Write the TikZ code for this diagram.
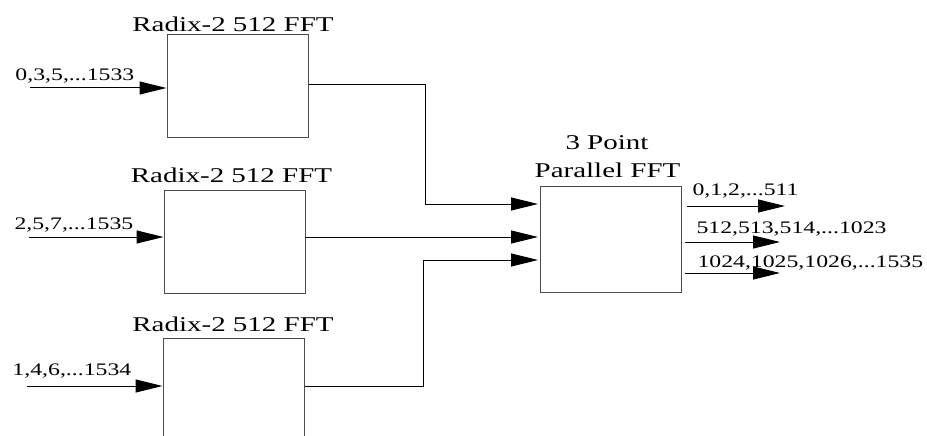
\documentclass[tikz,border=0pt]{standalone}
\usepackage{fontspec}
\setmainfont{Liberation Serif}
\newfontfamily\widefont[FakeStretch=1.38]{Liberation Serif}
\newfontfamily\tagfont[FakeStretch=1.35]{Liberation Serif}
\usetikzlibrary{arrows.meta}
\begin{document}
\begin{tikzpicture}[x=1pt,y=-1pt,
  line width=1pt,
  block/.style={draw=black!70, fill=white, minimum width=141pt, inner sep=0pt},
  wire/.style={draw=black},
  feed/.style={draw=black, -{Triangle[length=27pt,width=13pt]}},
  title/.style={anchor=base, inner sep=0pt, font=\widefont\fontsize{21}{28}\selectfont},
  tag/.style={anchor=base west, inner sep=0pt, font=\tagfont\fontsize{17.6}{21}\selectfont}]
  \useasboundingbox (0,0) rectangle (927,436);
  \clip (0,0) rectangle (927,436);
  \fill[white] (0,0) rectangle (927,436);

  % three radix-2 blocks and the 3-point block
  \node[block, minimum height=102pt] (b1) at (237.5,86) {};
  \node[block, minimum height=103pt] (b2) at (234.5,241.5) {};
  \node[block, minimum height=104pt] (b3) at (233.5,390) {};
  \node[block, minimum width=141pt, minimum height=106pt] (p) at (610.5,239) {};

  % block titles
  \node[title] (t1) at (233,32) {Radix-2 512 FFT};
  \node[title] (t2) at (231.5,182) {Radix-2 512 FFT};
  \node[title] (t3) at (233,331) {Radix-2 512 FFT};
  \node[title] (t4) at (607,149) {3 Point};
  \node[title] (t5) at (607.5,177) {Parallel FFT};

  % input sequences
  \coordinate (i1) at (30,88);
  \coordinate (i2) at (29,237);
  \coordinate (i3) at (27,386);
  \draw[feed] (i1) -- (i1 -| b1.west);
  \draw[feed] (i2) -- (i2 -| b2.west);
  \draw[feed] (i3) -- (i3 -| b3.west);
  \node[tag] (l1) at (15,81) {0,3,5,...1533};
  \node[tag] (l2) at (14,229) {2,5,7,...1535};
  \node[tag] (l3) at (12,375) {1,4,6,...1534};

  % routing into the 3-point FFT
  \coordinate (r1a) at (308,85);
  \coordinate (r1b) at (425,85);
  \coordinate (r1c) at (425,204);
  \draw[wire] (r1a -| b1.east) -- (r1b) -- (r1c);
  \draw[feed] (r1c) -- (538,204);
  \coordinate (r2) at (305,237);
  \draw[feed] (r2 -| b2.east) -- (538,237);
  \coordinate (r3a) at (304,386);
  \coordinate (r3b) at (423,386);
  \coordinate (r3c) at (423,260);
  \draw[wire] (r3a -| b3.east) -- (r3b) -- (r3c);
  \draw[feed] (r3c) -- (538,260);

  % output sequences
  \coordinate (o1a) at (687,206);
  \coordinate (o1b) at (785,206);
  \coordinate (o2a) at (685,242);
  \coordinate (o2b) at (780,242);
  \coordinate (o3a) at (685,273);
  \coordinate (o3b) at (780,273);
  \draw[feed] (o1a) -- (o1b);
  \draw[feed] (o2a) -- (o2b);
  \draw[feed] (o3a) -- (o3b);
  \node[tag] (q1) at (692,195) {0,1,2,...511};
  \node[tag] (q2) at (696,233) {512,513,514,...1023};
  \node[tag] (q3) at (697,267) {1024,1025,1026,...1535};
\end{tikzpicture}
\end{document}
